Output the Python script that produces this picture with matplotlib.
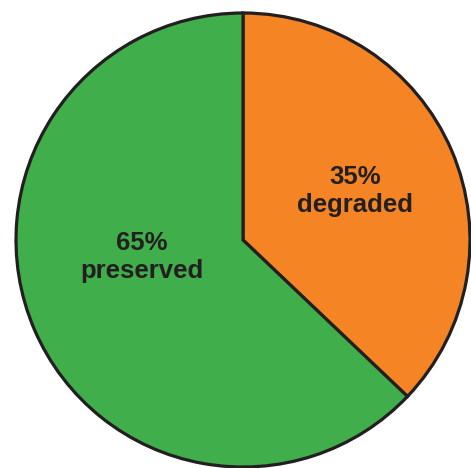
import matplotlib.pyplot as plt

# slice shares as drawn (degrees of arc, in percent)
slices = ["degraded", "preserved"]
shares = [37.1, 62.9]
pct_labels = ["35%", "65%"]
colors = ["#f48424", "#40ae4a"]

# label centres in data units (pie radius = 1)
label_pos = [(0.493, 0.215), (-0.445, -0.075)]

W, H = 471, 468
cx, cy, r = 243, 240, 227

fig = plt.figure(figsize=(W / 100, H / 100), dpi=100)
ax = fig.add_axes([0, 0, 1, 1])

ax.pie(
    shares,
    colors=colors,
    startangle=90,
    counterclock=False,
    radius=1,
    wedgeprops=dict(edgecolor="#231f20", linewidth=2.3, joinstyle="miter"),
)

for name, pct, (x, y) in zip(slices, pct_labels, label_pos):
    ax.text(
        x, y, f"{pct}\n{name}",
        ha="center", va="center",
        fontsize=18.5, fontweight="bold",
        family="Liberation Sans", color="#231f20",
        linespacing=1.2,
    )

ax.set_xlim(-cx / r, (W - cx) / r)
ax.set_ylim((cy - H) / r, cy / r)
ax.set_aspect("auto")
ax.axis("off")

fig.savefig("out.png", dpi=100)
